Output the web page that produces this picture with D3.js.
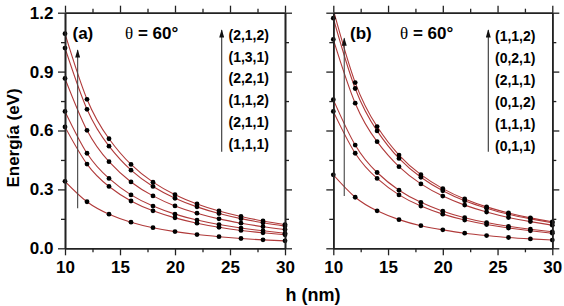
<!DOCTYPE html>
<html><head><meta charset="utf-8">
<script src="https://cdn.jsdelivr.net/npm/d3@7"></script>
<style>body{margin:0;background:#fff}svg{display:block}</style>
</head><body>
<svg id="c" width="564" height="306"></svg>
<script>
// ---- data ----
const hValues = [10, 12, 14, 16, 18, 20, 22, 24, 26, 28, 30];
const xTicks = [10, 15, 20, 25, 30];
const xMinorTicks = [12.5, 17.5, 22.5, 27.5];
const yTicks = [0, 0.3, 0.6, 0.9, 1.2];
const yMinorTicks = [0.15, 0.45, 0.75, 1.05];
const panelLabels = ["(a)", "(b)"];
const thetaSymbol = "θ";
const thetaText = " = 60°";
const xTitle = "h (nm)";
const yTitle = "Energía (eV)";

// panel (a), bottom to top
const statesA = ["(1,1,1)", "(2,1,1)", "(1,1,2)", "(2,2,1)", "(1,3,1)", "(2,1,2)"];
const seriesA = [
  [0.341, 0.237, 0.174, 0.133, 0.105, 0.085, 0.070, 0.059, 0.050, 0.043, 0.038],
  [0.618, 0.429, 0.315, 0.241, 0.191, 0.155, 0.128, 0.107, 0.091, 0.079, 0.069],
  [0.697, 0.484, 0.356, 0.272, 0.215, 0.174, 0.144, 0.121, 0.103, 0.089, 0.077],
  [0.865, 0.601, 0.441, 0.338, 0.267, 0.216, 0.179, 0.150, 0.128, 0.110, 0.096],
  [1.020, 0.708, 0.520, 0.398, 0.315, 0.255, 0.211, 0.177, 0.151, 0.130, 0.113],
  [1.093, 0.759, 0.558, 0.427, 0.337, 0.273, 0.226, 0.190, 0.162, 0.139, 0.121]
];
// panel (b), bottom to top
const statesB = ["(0,1,1)", "(1,1,1)", "(0,1,2)", "(2,1,1)", "(0,2,1)", "(1,1,2)"];
const seriesB = [
  [0.374, 0.260, 0.191, 0.146, 0.115, 0.094, 0.077, 0.065, 0.055, 0.048, 0.042],
  [0.697, 0.484, 0.356, 0.272, 0.215, 0.174, 0.144, 0.121, 0.103, 0.089, 0.077],
  [0.757, 0.526, 0.386, 0.296, 0.234, 0.189, 0.156, 0.131, 0.112, 0.097, 0.084],
  [1.064, 0.739, 0.543, 0.416, 0.328, 0.266, 0.220, 0.185, 0.157, 0.136, 0.118],
  [1.172, 0.814, 0.598, 0.458, 0.362, 0.293, 0.242, 0.204, 0.173, 0.150, 0.130],
  [1.215, 0.844, 0.620, 0.475, 0.375, 0.304, 0.251, 0.211, 0.180, 0.155, 0.135]
];
// inner arrows (h position, from energy, to energy)
const arrowA = [11.15, 0.204, 1.01];
const arrowB = [11.0, 0.266, 1.07];

// ---- layout ----
const svg = d3.select("#c");
const plotTop = 12.7, plotBottom = 248.3;
const panels = [
  {left: 65, right: 285, states: statesA, series: seriesA, arrow: arrowA, label: panelLabels[0],
   labelX: 72.5, thetaX: 125, legX: 228.5, legArrowX: 221.7, legY0: 35, legDy: 21.7, yLabels: true},
  {left: 333.3, right: 552.3, states: statesB, series: seriesB, arrow: arrowB, label: panelLabels[1],
   labelX: 350, thetaX: 400, legX: 495, legArrowX: 488.3, legY0: 36, legDy: 22, yLabels: false}
];
const sans = "'Liberation Sans', Arial, Helvetica, sans-serif";
const serif = "'Liberation Serif', 'Times New Roman', serif";
const axisColor = "#222";
const curveColor = "#b03a3a";

const defs = svg.append("defs");
defs.append("marker").attr("id", "ah").attr("viewBox", "0 0 10 6")
  .attr("refX", 9).attr("refY", 3).attr("markerWidth", 8.5).attr("markerHeight", 5)
  .attr("markerUnits", "userSpaceOnUse").attr("orient", "auto")
  .append("path").attr("d", "M0,0 L10,3 L0,6 Z").attr("fill", "#111");

const y = d3.scaleLinear().domain([0, 1.2]).range([plotBottom, plotTop]);

panels.forEach((p, pi) => {
  const x = d3.scaleLinear().domain([10, 30]).range([p.left, p.right]);
  const g = svg.append("g");
  const clipId = "clip" + pi;
  defs.append("clipPath").attr("id", clipId).append("rect")
    .attr("x", p.left).attr("y", plotTop).attr("width", p.right - p.left).attr("height", plotBottom - plotTop);

  // curves
  const line = d3.line().x((d, i) => x(hValues[i])).y(d => y(d)).curve(d3.curveNatural);
  g.append("g").attr("clip-path", `url(#${clipId})`).selectAll("path").data(p.series).join("path")
    .attr("d", line).attr("fill", "none").attr("stroke", curveColor).attr("stroke-width", 1.1);

  // dots
  p.series.forEach(s => {
    g.append("g").selectAll("circle").data(s.map((v, i) => [hValues[i], v]).filter(d => d[1] <= 1.2))
      .join("circle").attr("cx", d => x(d[0])).attr("cy", d => y(d[1])).attr("r", 2.4).attr("fill", "#000");
  });

  // axes
  const styleAxis = sel => {
    sel.selectAll(".domain").attr("stroke", axisColor).attr("stroke-width", 1.6);
    sel.selectAll(".tick line").attr("stroke", axisColor).attr("stroke-width", 1.3);
    sel.selectAll("text").attr("font-family", sans).attr("font-weight", "bold")
      .attr("font-size", 17).attr("fill", "#000");
  };
  g.append("g").attr("transform", `translate(0,${plotBottom})`)
    .call(d3.axisBottom(x).tickValues(xTicks).tickSize(7).tickSizeOuter(0).tickPadding(5.2).tickFormat(d3.format("d")))
    .call(styleAxis);
  g.append("g").attr("transform", `translate(0,${plotBottom})`)
    .call(d3.axisBottom(x).tickValues(xMinorTicks).tickSize(4).tickSizeOuter(0).tickFormat(""))
    .call(styleAxis);
  g.append("g").attr("transform", `translate(0,${plotTop})`)
    .call(d3.axisTop(x).tickValues(xTicks).tickSize(7).tickSizeOuter(0).tickFormat(""))
    .call(styleAxis);
  g.append("g").attr("transform", `translate(0,${plotTop})`)
    .call(d3.axisTop(x).tickValues(xMinorTicks).tickSize(4).tickSizeOuter(0).tickFormat(""))
    .call(styleAxis);
  g.append("g").attr("transform", `translate(${p.left},0)`)
    .call(d3.axisLeft(y).tickValues(yTicks).tickSize(7).tickSizeOuter(0).tickPadding(4.5)
      .tickFormat(p.yLabels ? d3.format(".1f") : ""))
    .call(styleAxis);
  g.append("g").attr("transform", `translate(${p.left},0)`)
    .call(d3.axisLeft(y).tickValues(yMinorTicks).tickSize(4).tickSizeOuter(0).tickFormat(""))
    .call(styleAxis);
  g.append("g").attr("transform", `translate(${p.right},0)`)
    .call(d3.axisRight(y).tickValues(yTicks).tickSize(7).tickSizeOuter(0).tickFormat(""))
    .call(styleAxis);
  g.append("g").attr("transform", `translate(${p.right},0)`)
    .call(d3.axisRight(y).tickValues(yMinorTicks).tickSize(4).tickSizeOuter(0).tickFormat(""))
    .call(styleAxis);

  // inner arrow
  g.append("line").attr("x1", x(p.arrow[0])).attr("x2", x(p.arrow[0]))
    .attr("y1", y(p.arrow[1])).attr("y2", y(p.arrow[2]))
    .attr("stroke", "#444").attr("stroke-width", 1.1).attr("marker-end", "url(#ah)");

  // panel label and angle
  g.append("text").attr("x", p.labelX).attr("y", 38.5).attr("font-family", sans)
    .attr("font-weight", "bold").attr("font-size", 17).text(p.label);
  const t = g.append("text").attr("x", p.thetaX).attr("y", 38.5).attr("font-size", 17);
  t.append("tspan").attr("font-family", serif).text(thetaSymbol);
  t.append("tspan").attr("font-family", sans).attr("font-weight", "bold").text(thetaText);

  // legend arrow and state labels
  g.append("line").attr("x1", p.legArrowX).attr("x2", p.legArrowX)
    .attr("y1", 151.7).attr("y2", 30)
    .attr("stroke", "#333").attr("stroke-width", 1.1).attr("marker-end", "url(#ah)");
  const legendOrder = p.states.slice().reverse();
  g.selectAll("text.leg").data(legendOrder).join("text").attr("class", "leg")
    .attr("x", p.legX).attr("y", (d, i) => p.legY0 + i * p.legDy + 5)
    .attr("font-family", sans).attr("font-weight", "bold").attr("font-size", 14).text(d => d);
});

// axis titles
svg.append("text").attr("transform", "translate(18.5,138) rotate(-90)").attr("text-anchor", "middle")
  .attr("font-family", sans).attr("font-weight", "bold").attr("font-size", 17).text(yTitle);
svg.append("text").attr("x", 313).attr("y", 301).attr("text-anchor", "middle")
  .attr("font-family", sans).attr("font-weight", "bold").attr("font-size", 18).text(xTitle);
</script>
</body></html>
